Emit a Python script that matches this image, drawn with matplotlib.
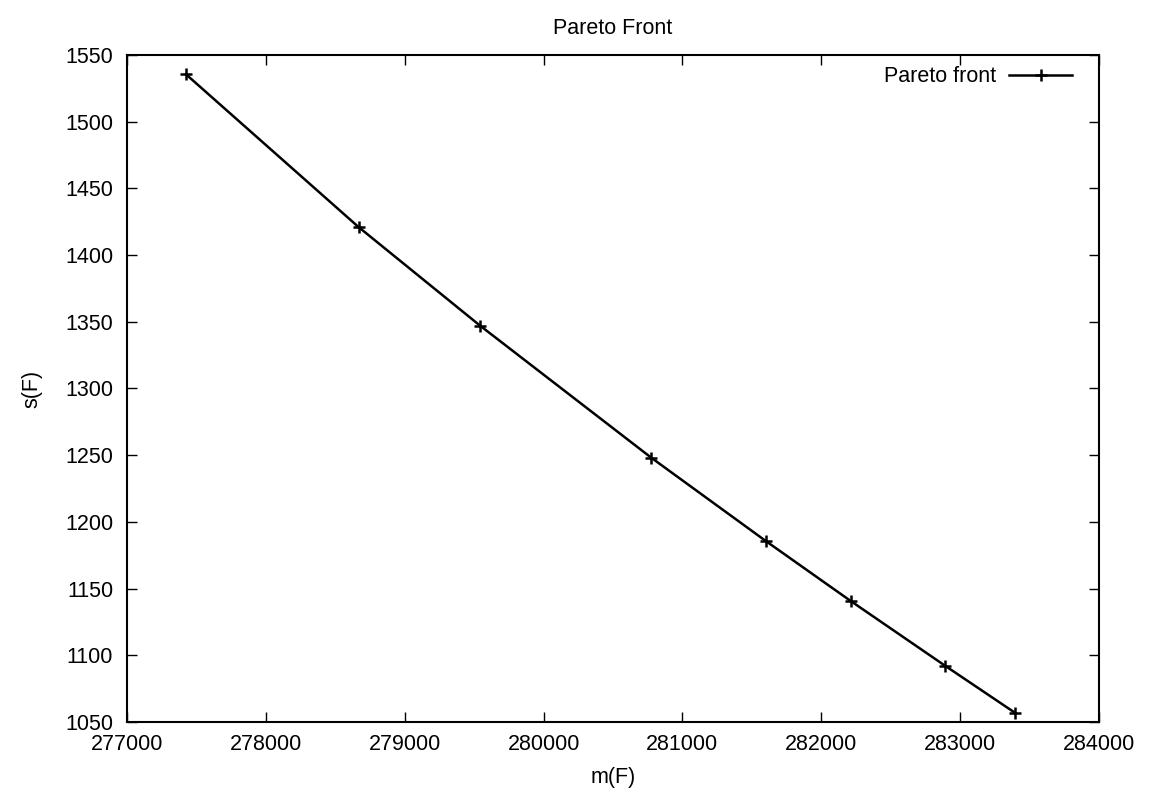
import matplotlib
matplotlib.use('Agg')
import matplotlib.pyplot as plt

plt.rcParams['font.family'] = ['Liberation Sans', 'DejaVu Sans']

# pareto front points
m_f = [277425, 278668, 279544, 280777, 281600, 282212, 282894, 283398]
s_f = [1535.5, 1421, 1347, 1248, 1185.7, 1140.7, 1092, 1056.7]

x_ticks = [277000, 278000, 279000, 280000, 281000, 282000, 283000, 284000]
y_ticks = [1050, 1100, 1150, 1200, 1250, 1300, 1350, 1400, 1450, 1500, 1550]

fs = 15.5

fig = plt.figure(figsize=(11.52, 7.96), dpi=100)
ax = fig.add_axes([127 / 1152, 74 / 796, 972 / 1152, 667 / 796])

ax.plot(m_f, s_f, color='black', linewidth=1.8, marker='+', markersize=9,
        markeredgewidth=1.8, label='Pareto front')

ax.set_xlim(277000, 284000)
ax.set_ylim(1050, 1550)
ax.set_xticks(x_ticks)
ax.set_yticks(y_ticks)
ax.set_xticklabels([str(v) for v in x_ticks])
ax.set_yticklabels([str(v) for v in y_ticks])
ax.tick_params(direction='in', length=7, width=1, top=True, right=True,
               labelsize=fs)
ax.tick_params(axis='x', pad=9)
ax.tick_params(axis='y', pad=10)
for sp in ax.spines.values():
    sp.set_linewidth(1.5)

ax.set_title('Pareto Front', fontsize=fs, pad=15)
ax.set_xlabel('m(F)', fontsize=fs, labelpad=8)
ax.set_ylabel('s(F)', fontsize=fs, labelpad=16)

ax.legend(loc='upper right', bbox_to_anchor=(0.981, 0.996), frameon=False,
          markerfirst=False, fontsize=fs, handlelength=2.9, borderaxespad=0,
          handletextpad=0.6)

fig.savefig('out.png', dpi=100)
